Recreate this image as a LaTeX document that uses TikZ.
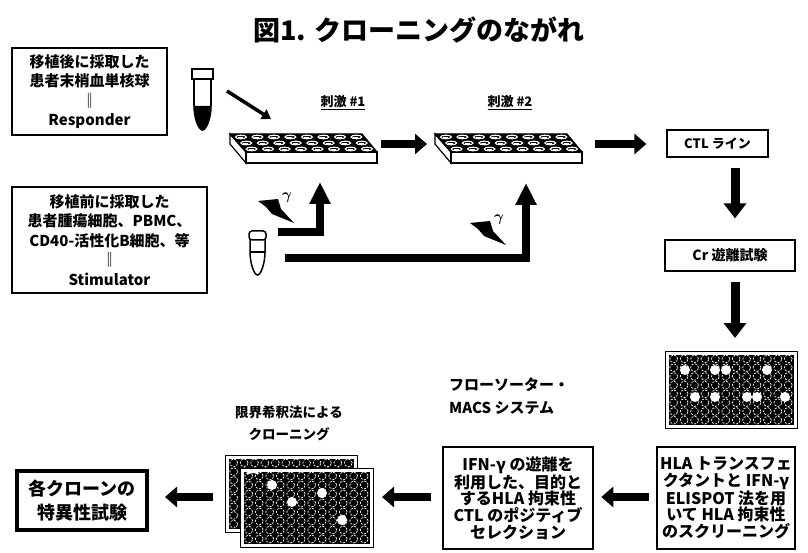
\documentclass[tikz,border=0pt]{standalone}
\usepackage{fontspec}
\newfontfamily\jp{Noto Sans CJK JP}
\usetikzlibrary{arrows.meta}
\usepackage{amsmath,bm}

\tikzset{
  thinbox/.style={draw=black, line width=1.3pt, fill=white, inner sep=0pt, align=center},
  heavybox/.style={draw=black, line width=2.6pt, fill=white, inner sep=0pt, align=center},
  blockarrow/.style={line width=8pt, -{Triangle[length=12pt,width=20pt]}},
  downarrow/.style={line width=9pt, -{Triangle[length=15pt,width=22pt]}},
  larrow/.style={line width=8pt, miter limit=10, -{Triangle[length=22pt,width=20pt]}},
  boxtext/.style={font=\jp\bfseries\fontsize{15}{19.5}\selectfont},
  wellring/.style={draw=white, line width=0.7pt, dash pattern=on 2.2pt off 1.3pt},
}

% 3-D well plate seen from the front; #1 = horizontal offset
\newcommand\slantplate[1]{%
  \begin{scope}[shift={(#1,0)}]
    \filldraw[fill=white, line width=1.2pt] (230,134) -- (246,152) -- (246,163) -- (230,144) -- cycle;
    \filldraw[fill=white, line width=1.2pt] (246,152) rectangle (377,163);
    \filldraw[fill=black, line width=1.2pt] (230,134) -- (362,134) -- (377,152) -- (246,152) -- cycle;
    \foreach \r in {0,1,2} {
      \foreach \c in {0,...,7} {
        \draw[white, line width=1.1pt] ({233+(\c+0.5)*16.5+(\r+0.5)*5.33-3},{134+(\r+0.5)*6}) ellipse (5.4pt and 1.8pt);
        \fill[white] ({233+(\c+0.5)*16.5+(\r+0.5)*5.33-6},{134+(\r+0.5)*6}) rectangle +(5,0.9);
      }
    }
  \end{scope}}

% flat black plate with white border; #1,#2 upper-left, #3,#4 lower-right
\newcommand\flatplate[4]{%
  \filldraw[fill=white, line width=1pt] (#1,#2) rectangle (#3,#4);
  \fill[black] ({#1+3.5},{#2+3.5}) rectangle ({#3-3.5},{#4-3.5});
  \begin{scope}
    \clip ({#1+3.5},{#2+3.5}) rectangle ({#3-3.5},{#4-3.5});
    \pgfmathsetmacro\pw{(#3-#1-7)/12}
    \pgfmathsetmacro\ph{(#4-#2-7)/8}
    \foreach \i in {0,...,11} {
      \foreach \j in {0,...,7} {
        \draw[wellring] ({#1+3.5+(\i+0.5)*\pw},{#2+3.5+(\j+0.5)*\ph}) circle (3.9pt);
      }
    }
  \end{scope}}

% gamma-ray bolt; #1,#2 offset
\newcommand\raybolt[2]{%
  \begin{scope}[shift={(#1,#2)}]
    \fill[black] (258,201) -- (278,199) -- (281,209) -- (294,223) -- (272,214) -- (266,207) -- cycle;
    \node[inner sep=0pt, scale=1.5] at (287,198) {$\boldsymbol{\gamma}$};
  \end{scope}}

\begin{document}
\begin{tikzpicture}[x=1pt, y=-1pt]
\useasboundingbox (0,0) rectangle (808,553);
\fill[white] (0,0) rectangle (808,553);

% title
\node[font=\jp\bfseries\fontsize{27}{27}\selectfont, inner sep=0pt] (title) at (419,30) {図1. クローニングのながれ};

% responder and stimulator boxes
\node[thinbox, boxtext, minimum width=155pt, minimum height=87pt] (resp) at (89.5,91.5)
  {移植後に採取した\\患者末梢血単核球\\‖\\Responder};
\node[thinbox, boxtext, minimum width=195pt, minimum height=106pt] (stim) at (109.5,240)
  {移植前に採取した\\患者腫瘍細胞、PBMC、\\CD40-活性化B細胞、等\\‖\\Stimulator};

% responder tube
\filldraw[fill=white, line width=1.6pt] (194,79) -- (194,105) .. controls (194,119) and (199,130) .. (202.5,130)
  .. controls (206,130) and (211,119) .. (211,105) -- (211,79);
\fill[black] (194,106) .. controls (194,119) and (199,130) .. (202.5,130)
  .. controls (206,130) and (211,119) .. (211,106) -- cycle;
\filldraw[fill=white, line width=1.8pt] (192,69) rectangle (213,79);

% stimulator tube
\draw[line width=1.5pt] (250,240) -- (250,252) .. controls (250,263) and (254,275) .. (257.5,275)
  .. controls (261,275) and (265,263) .. (265,252) -- (265,240);
\draw[line width=1.3pt] (250,252) -- (265,252);
\draw[line width=1.5pt, rounded corners=3pt] (249,231) rectangle (266,240);

% stimulation plates
\slantplate{0}
\slantplate{205}
\coordinate (plateone) at (303,144);
\coordinate (platetwo) at (508,144);
\node[font=\jp\bfseries\fontsize{13}{13}\selectfont, inner sep=0pt] (stimone) at (343,103) {\underline{刺激 \#1}};
\node[font=\jp\bfseries\fontsize{13}{13}\selectfont, inner sep=0pt] (stimtwo) at (510,103) {\underline{刺激 \#2}};

% responder cells into the first plate
\draw[line width=3.5pt, -{Triangle[length=9pt,width=11pt]}] (227,91) -- (271,119);

% irradiated stimulator feeds
\raybolt{0}{0}
\raybolt{212}{22}
\draw[larrow] (278,232) -| (320,182);
\draw[larrow] (285,258) -| (526,183);

% CTL line and chromium release assay
\node[thinbox, font=\jp\bfseries\fontsize{13}{13}\selectfont, minimum width=101pt, minimum height=27pt] (ctl) at (717.5,143.5) {CTL ライン};
\node[thinbox, font=\jp\bfseries\fontsize{14}{14}\selectfont, minimum width=130pt, minimum height=31pt] (cr) at (730,255.5) {Cr 遊離試験};
\coordinate (col) at (735,0);

\draw[blockarrow] (plateone -| 381,0) -- (platetwo -| 427,0);
\draw[blockarrow] (595,144) -- ([xshift=-20pt]ctl.west |- 0,144);
\draw[downarrow] ([yshift=-10pt]ctl.south -| col) -- ([yshift=21pt]cr.north -| col);
\draw[downarrow] ([yshift=-10pt]cr.south -| col) -- ([yshift=13pt]col |- 0,351);

% screening plate
\flatplate{665}{351}{797}{428}
\foreach \p in {(685,370),(715,370),(726,370),(767,370),(695,397),(715,397),(747,397),(757,397),(785,397)}
  \fill[white] \p circle (5pt);

% screening and selection boxes
\node[heavybox, font=\jp\bfseries\fontsize{16}{16.7}\selectfont, minimum width=138pt, minimum height=102pt] (hla) at (726,498)
  {HLA トランスフェ\\クタントと IFN-γ\\ELISPOT 法を用\\いて HLA 拘束性\\のスクリーニング};
\node[heavybox, font=\jp\bfseries\fontsize{16}{16.7}\selectfont, minimum width=150pt, minimum height=102pt] (ifn) at (518,498)
  {IFN-γ の遊離を\\利用した、目的と\\するHLA 拘束性\\CTL のポジティブ\\セレクション};
\node[font=\jp\bfseries\fontsize{15}{22.5}\selectfont, align=left, inner sep=0pt, anchor=north west] (sorter) at (449,378)
  {フローソーター・\\MACS システム};

% limiting dilution cloning plates
\flatplate{225}{455}{357}{532}
\flatplate{240}{468}{373}{547}
\foreach \p in {(272,485),(292,502),(322,493),(342,520)}
  \fill[white] \p circle (5pt);
\draw[white, line width=2pt] (247,474) arc (160:20:6pt and 3pt);
\node[font=\jp\bfseries\fontsize{13.5}{22}\selectfont, align=center, inner sep=0pt] (clonelabel) at (289,423)
  {限界希釈法による\\クローニング};

% specificity assay
\node[draw=black, line width=4pt, fill=white, inner sep=0pt, align=center,
  font=\jp\bfseries\fontsize{18}{24}\selectfont, minimum width=130pt, minimum height=59pt] (spec) at (82,500.5)
  {各クローンの\\特異性試験};

\draw[blockarrow] ([xshift=-7pt]hla.west |- 0,497) -- ([xshift=7pt]ifn.east |- 0,497);
\draw[blockarrow] ([xshift=-11pt]ifn.west |- 0,497) -- (382,497);
\draw[blockarrow] (213,497) -- ([xshift=16pt]spec.east |- 0,497);
\end{tikzpicture}
\end{document}
